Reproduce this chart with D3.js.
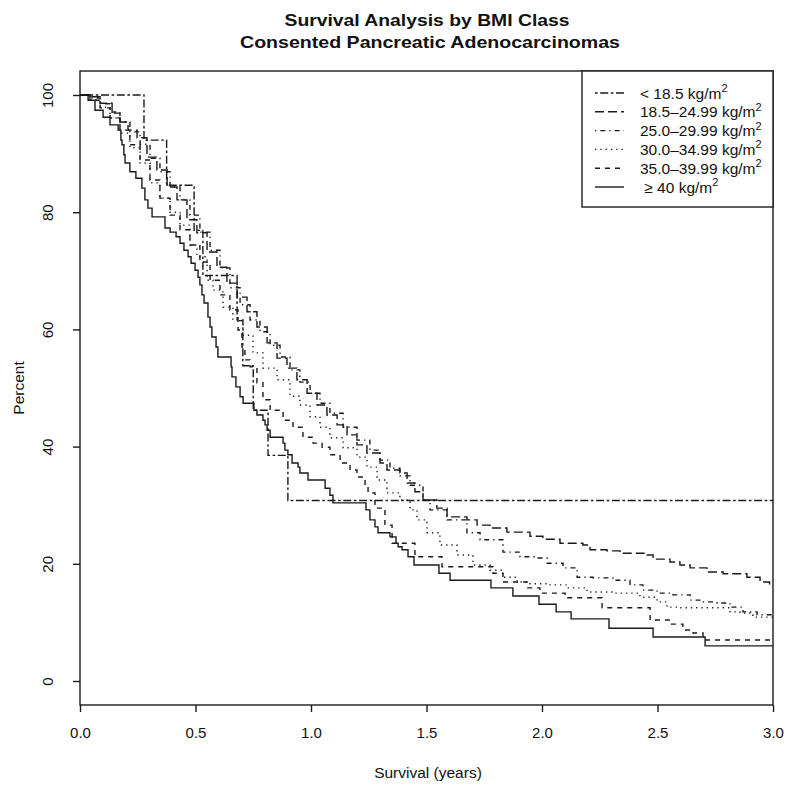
<!DOCTYPE html>
<html>
<head>
<meta charset="utf-8">
<script src="https://cdn.jsdelivr.net/npm/d3@7"></script>
<style>
  body { margin: 0; background: #fff; }
  text { font-family: "Liberation Sans", Arial, sans-serif; fill: #111; }
</style>
</head>
<body>
<script>
// Kaplan-Meier steps per BMI class: [years, percent surviving]
const bmiUnder18 = [[0,100],[0.277,92.3],[0.375,84.6],[0.494,76.9],[0.532,69.2],[0.680,61.5],[0.705,53.8],[0.750,46.2],[0.814,38.5],[0.900,30.8]];

const bmi18to25 = [[0,100],[0.043,99.7],[0.087,98.6],[0.139,96.9],[0.173,95.4],[0.208,94.0],[0.247,92.7],[0.290,89.4],[0.333,87.2],[0.377,84.3],[0.420,82.1],[0.463,78.7],[0.506,76.5],[0.550,73.2],[0.593,70.6],[0.636,67.9],[0.680,65.5],[0.723,63.0],[0.766,60.4],[0.810,57.7],[0.853,55.1],[0.896,53.4],[0.939,51.4],[0.983,49.1],[1.026,47.1],[1.069,45.4],[1.113,43.7],[1.156,42.0],[1.199,40.3],[1.242,38.9],[1.299,37.2],[1.329,36.0],[1.385,35.5],[1.416,33.8],[1.450,32.3],[1.485,30.9],[1.545,29.5],[1.589,28.0],[1.675,27.5],[1.719,26.6],[1.775,26.1],[1.848,25.4],[1.948,24.7],[2.004,24.2],[2.078,23.5],[2.177,23.2],[2.208,22.4],[2.281,22.2],[2.338,21.8],[2.455,21.5],[2.481,20.8],[2.554,20.3],[2.597,19.8],[2.641,19.3],[2.714,18.6],[2.784,18.3],[2.887,17.7],[2.944,16.9],[2.985,16.6]];

const bmi25to30 = [[0,100],[0.043,99.5],[0.087,98.5],[0.130,97.1],[0.173,95.4],[0.216,93.7],[0.260,91.6],[0.303,89.2],[0.346,86.9],[0.390,84.3],[0.433,82.1],[0.476,79.5],[0.519,76.6],[0.563,73.5],[0.606,70.5],[0.649,67.1],[0.693,64.2],[0.736,61.6],[0.779,59.6],[0.823,57.3],[0.866,55.3],[0.909,53.1],[0.952,51.0],[0.996,49.1],[1.039,47.4],[1.082,45.7],[1.139,43.3],[1.199,41.1],[1.255,39.4],[1.299,37.7],[1.342,36.3],[1.385,35.0],[1.429,33.4],[1.485,30.9],[1.515,29.2],[1.589,27.5],[1.675,25.3],[1.732,24.1],[1.831,22.0],[1.905,21.2],[1.978,21.0],[2.022,20.1],[2.091,19.3],[2.152,17.7],[2.221,17.6],[2.307,17.2],[2.381,16.4],[2.437,15.5],[2.498,15.0],[2.567,14.7],[2.641,13.8],[2.697,13.5],[2.758,13.3],[2.814,12.6],[2.870,11.8],[2.931,11.3]];

const bmi30to35 = [[0,100],[0.043,99.1],[0.087,97.9],[0.130,96.1],[0.173,93.5],[0.216,91.0],[0.260,88.4],[0.303,85.0],[0.346,82.4],[0.390,80.0],[0.433,77.8],[0.476,74.4],[0.506,72.4],[0.550,68.4],[0.576,66.7],[0.619,63.8],[0.662,61.6],[0.706,59.0],[0.749,56.0],[0.792,53.4],[0.853,51.4],[0.909,48.6],[0.952,47.1],[0.996,45.1],[1.039,43.3],[1.082,41.5],[1.139,39.8],[1.199,38.2],[1.242,36.5],[1.286,34.3],[1.329,32.1],[1.385,30.9],[1.429,29.2],[1.459,27.5],[1.502,25.3],[1.558,23.2],[1.632,21.5],[1.701,19.8],[1.775,18.9],[1.831,17.7],[1.892,16.9],[1.948,16.6],[2.022,16.4],[2.108,15.9],[2.195,15.2],[2.307,15.0],[2.424,14.3],[2.498,13.5],[2.541,12.6],[2.597,12.5],[2.814,11.8],[2.857,11.6],[2.913,10.9]];

const bmi35to40 = [[0,100],[0.043,99.1],[0.087,97.8],[0.130,96.1],[0.173,94.0],[0.216,91.5],[0.260,88.9],[0.303,85.5],[0.346,82.4],[0.390,79.5],[0.433,77.0],[0.476,74.4],[0.519,71.5],[0.563,68.4],[0.606,65.9],[0.649,63.3],[0.684,59.9],[0.701,57.0],[0.714,54.8],[0.736,53.6],[0.766,50.9],[0.792,48.0],[0.823,46.2],[0.879,44.5],[0.922,43.3],[0.965,41.6],[1.009,40.6],[1.048,39.9],[1.082,38.6],[1.126,37.2],[1.169,36.0],[1.199,34.8],[1.234,33.4],[1.247,32.1],[1.277,29.5],[1.320,26.6],[1.351,23.5],[1.450,21.2],[1.567,19.5],[1.788,18.4],[1.831,16.9],[1.935,15.9],[1.991,15.0],[2.100,14.2],[2.260,12.5],[2.468,10.4],[2.554,9.7],[2.610,8.7],[2.654,8.2],[2.697,7.0]];

const bmi40plus = [[0,100],[0.035,99.1],[0.065,97.4],[0.100,96.2],[0.130,94.9],[0.165,94.0],[0.177,92.3],[0.182,91.5],[0.190,89.8],[0.195,88.4],[0.216,86.9],[0.242,85.8],[0.268,84.1],[0.281,82.1],[0.294,80.7],[0.312,79.2],[0.368,77.3],[0.390,76.6],[0.416,75.8],[0.433,74.7],[0.450,73.5],[0.468,72.4],[0.481,71.3],[0.498,70.1],[0.511,68.9],[0.519,67.6],[0.528,65.9],[0.537,64.5],[0.554,62.1],[0.563,60.4],[0.571,58.7],[0.589,57.0],[0.597,55.3],[0.654,53.6],[0.658,51.9],[0.675,50.2],[0.693,48.5],[0.706,47.4],[0.753,46.2],[0.766,45.4],[0.792,44.5],[0.801,43.7],[0.810,42.8],[0.823,41.6],[0.879,40.6],[0.887,39.4],[0.900,38.6],[0.918,37.2],[0.944,36.5],[0.952,35.5],[0.987,34.3],[1.061,32.9],[1.082,31.7],[1.095,30.4],[1.238,29.2],[1.255,27.5],[1.277,26.3],[1.290,25.3],[1.342,24.6],[1.368,23.5],[1.377,22.9],[1.394,22.4],[1.420,21.2],[1.446,19.8],[1.554,18.4],[1.602,17.2],[1.779,15.9],[1.874,14.5],[1.987,13.1],[2.061,11.8],[2.126,10.6],[2.290,9.0],[2.481,7.5],[2.706,6.0]];

const seriesList = [bmiUnder18, bmi18to25, bmi25to30, bmi30to35, bmi35to40, bmi40plus];
const legendLabels = ["< 18.5 kg/m", "18.5\u201324.99 kg/m", "25.0\u201329.99 kg/m", "30.0\u201334.99 kg/m", "35.0\u201339.99 kg/m", " \u2265 40 kg/m"];
const xTicks = [0, 0.5, 1, 1.5, 2, 2.5, 3];
const yTicks = [0, 20, 40, 60, 80, 100];
const maxYears = 3;

// R line types: twodash, longdash, dotdash, dotted, dashed, solid
const dashes = ["2.6,2.6,8,2.6", "9,4", "1.3,4,5,4", "1.3,4", "5,5", null];
const ink = '#1a1a1a';

const W = 792, H = 791;
const box = {left: 80, right: 773, top: 71, bottom: 705};

const svg = d3.select('body').append('svg')
  .attr('width', W)
  .attr('height', H);

const xscale = d3.scaleLinear().domain([0, maxYears]).range([box.left, box.right]);
const yscale = d3.scaleLinear().domain([0, 100]).range([681, 95]);

svg.append('clipPath').attr('id', 'plotclip')
  .append('rect')
  .attr('x', box.left).attr('y', box.top)
  .attr('width', box.right - box.left).attr('height', box.bottom - box.top);

// curves
const line = d3.line()
  .x(d => xscale(d[0]))
  .y(d => yscale(d[1]))
  .curve(d3.curveStepAfter);

const g_curves = svg.append('g').attr('clip-path', 'url(#plotclip)');
seriesList.forEach((s, i) => {
  const pts = s.concat([[maxYears, s[s.length - 1][1]]]);
  g_curves.append('path')
    .attr('d', line(pts))
    .attr('fill', 'none')
    .attr('stroke', ink)
    .attr('stroke-width', 1.4)
    .attr('stroke-dasharray', dashes[i]);
});

// frame
svg.append('rect')
  .attr('x', box.left).attr('y', box.top)
  .attr('width', box.right - box.left).attr('height', box.bottom - box.top)
  .attr('fill', 'none').attr('stroke', ink).attr('stroke-width', 1.4);

// axes
const xaxis = d3.axisBottom(xscale).tickValues(xTicks).tickFormat(d3.format('.1f')).tickSize(7).tickPadding(15);
const g_xaxis = svg.append('g').attr('transform', `translate(0,${box.bottom})`).call(xaxis);
const yaxis = d3.axisLeft(yscale).tickValues(yTicks).tickSize(7).tickPadding(0);
const g_yaxis = svg.append('g').attr('transform', `translate(${box.left},0)`).call(yaxis);

[g_xaxis, g_yaxis].forEach(g => {
  g.select('.domain').remove();
  g.selectAll('.tick line').attr('stroke', ink).attr('stroke-width', 1.4);
  g.selectAll('.tick text').attr('font-size', 15).attr('fill', '#111')
    .attr('font-family', '"Liberation Sans", Arial, sans-serif');
});
g_xaxis.selectAll('.tick text').attr('dy', '0.71em');
g_yaxis.selectAll('.tick text')
  .attr('x', 0).attr('dy', 0)
  .attr('text-anchor', 'middle')
  .attr('transform', 'translate(-27,0) rotate(-90)');

// titles
svg.append('text').attr('x', 427).attr('y', 26).attr('text-anchor', 'middle')
  .attr('font-size', 17).attr('font-weight', 'bold')
  .attr('textLength', 285).attr('lengthAdjust', 'spacingAndGlyphs')
  .text('Survival Analysis by BMI Class');
svg.append('text').attr('x', 430).attr('y', 48).attr('text-anchor', 'middle')
  .attr('font-size', 17).attr('font-weight', 'bold')
  .attr('textLength', 380).attr('lengthAdjust', 'spacingAndGlyphs')
  .text('Consented Pancreatic Adenocarcinomas');
svg.append('text').attr('x', 428).attr('y', 778).attr('text-anchor', 'middle')
  .attr('font-size', 15.5).text('Survival (years)');
svg.append('text').attr('transform', 'translate(24,388) rotate(-90)').attr('text-anchor', 'middle')
  .attr('font-size', 15.5).text('Percent');

// legend
const lg = svg.append('g');
lg.append('rect').attr('x', 582).attr('y', box.top).attr('width', box.right - 582).attr('height', 136)
  .attr('fill', '#fff').attr('stroke', ink).attr('stroke-width', 1.4);
legendLabels.forEach((lab, i) => {
  const y = 93 + i * 18.8;
  lg.append('line').attr('x1', 595).attr('x2', 624).attr('y1', y).attr('y2', y)
    .attr('stroke', ink).attr('stroke-width', 1.4).attr('stroke-dasharray', dashes[i]);
  const t = lg.append('text').attr('x', 640).attr('y', y + 5.5).attr('font-size', 15.5).attr('xml:space', 'preserve');
  t.append('tspan').text(lab);
  t.append('tspan').attr('font-size', 11).attr('dy', -6.5).text('2');
});
</script>
</body>
</html>
